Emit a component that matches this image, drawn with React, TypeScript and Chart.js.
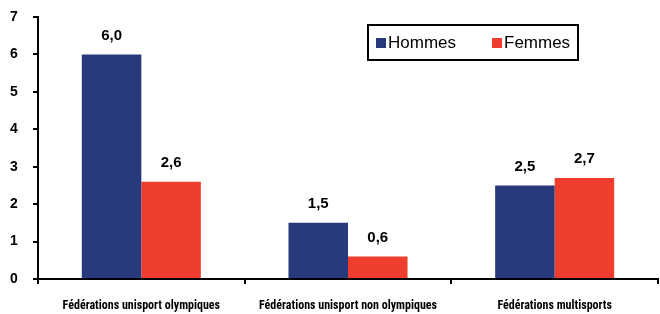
import React, { useEffect, useRef } from "react";
import { Chart, registerables } from "chart.js";

Chart.register(...registerables);

const categories = [
  "Fédérations unisport olympiques",
  "Fédérations unisport non olympiques",
  "Fédérations multisports",
];
const seriesNames = ["Hommes", "Femmes"];
const hommes = [6.0, 1.5, 2.5];
const femmes = [2.6, 0.6, 2.7];
const yTicks = [0, 1, 2, 3, 4, 5, 6, 7];
const colors = ["#283A7C", "#EF3E2D"];

const fmt = (v: number) => v.toFixed(1).replace(".", ",");

const valueLabels = {
  id: "valueLabels",
  afterDatasetsDraw(chart: any) {
    const ctx = chart.ctx;
    ctx.save();
    ctx.font = "bold 15px 'Liberation Sans'";
    ctx.fillStyle = "#000";
    ctx.textAlign = "center";
    ctx.textBaseline = "middle";
    chart.data.datasets.forEach((ds: any, i: number) => {
      const meta = chart.getDatasetMeta(i);
      meta.data.forEach((bar: any, j: number) => {
        ctx.fillText(fmt(ds.data[j]), bar.x, bar.y - 19);
      });
    });
    ctx.restore();
  },
};

const boxLegend = {
  id: "boxLegend",
  afterDraw(chart: any) {
    const ctx = chart.ctx;
    ctx.save();
    const x = 368, y = 25, w = 210, h = 35;
    ctx.strokeStyle = "#000";
    ctx.lineWidth = 2;
    ctx.strokeRect(x, y, w, h);
    ctx.font = "17px 'Liberation Sans'";
    ctx.textBaseline = "middle";
    ctx.textAlign = "left";
    const xs = [376, 492];
    chart.data.datasets.forEach((ds: any, i: number) => {
      ctx.fillStyle = ds.backgroundColor;
      ctx.fillRect(xs[i], 38, 10, 10);
      ctx.fillStyle = "#000";
      ctx.fillText(ds.label, xs[i] + 12, y + h / 2 + 1);
    });
    ctx.restore();
  },
};

export default function App() {
  const ref = useRef<HTMLCanvasElement>(null);
  useEffect(() => {
    let chart: any = null;
    let cancelled = false;
    const fontsToLoad = [
      "bold 15px 'Liberation Sans'",
      "17px 'Liberation Sans'",
      "bold 12px 'Roboto Condensed'",
    ];
    Promise.all(fontsToLoad.map((f) => document.fonts.load(f).catch(() => null))).then(() => {
      if (cancelled || !ref.current) return;
      chart = new Chart(ref.current, {
        type: "bar",
        data: {
          labels: categories,
          datasets: [
            { label: seriesNames[0], data: hommes, backgroundColor: colors[0], borderWidth: 0 },
            { label: seriesNames[1], data: femmes, backgroundColor: colors[1], borderWidth: 0 },
          ],
        },
        options: {
          animation: false,
          responsive: false,
          maintainAspectRatio: false,
          layout: { padding: { left: 10, right: 2, top: 17, bottom: 0 } },
          plugins: { legend: { display: false }, tooltip: { enabled: false } },
          datasets: { bar: { categoryPercentage: 0.576, barPercentage: 1 } },
          scales: {
            x: {
              offset: true,
              afterFit: (axis: any) => {
                axis.height = 35;
              },
              grid: {
                offset: true,
                drawOnChartArea: false,
                drawTicks: true,
                tickLength: 5,
                color: "#000",
                lineWidth: 2,
              },
              border: { color: "#000", width: 2 },
              ticks: {
                color: "#000",
                padding: 15,
                maxRotation: 0,
                autoSkip: false,
                font: { family: "'Roboto Condensed'", size: 12, weight: "bold" },
              },
            },
            y: {
              min: 0,
              max: 7,
              afterBuildTicks: (axis: any) => {
                axis.ticks = yTicks.map((v) => ({ value: v }));
              },
              afterFit: (axis: any) => {
                axis.width = 28;
              },
              grid: {
                drawOnChartArea: false,
                drawTicks: true,
                tickLength: 5,
                color: "#000",
                lineWidth: 2,
              },
              border: { color: "#000", width: 2 },
              ticks: {
                color: "#000",
                padding: 2,
                crossAlign: "far",
                font: { family: "'Liberation Sans'", size: 14, weight: "bold" },
              },
            },
          },
        },
        plugins: [valueLabels, boxLegend],
      } as any);
    });
    return () => {
      cancelled = true;
      if (chart) chart.destroy();
    };
  }, []);
  return (
    <div style={{ position: "fixed", left: 0, top: 0, width: 660, height: 314, background: "#fff" }}>
      <canvas ref={ref} width={660} height={314} style={{ width: 660, height: 314 }} />
    </div>
  );
}
